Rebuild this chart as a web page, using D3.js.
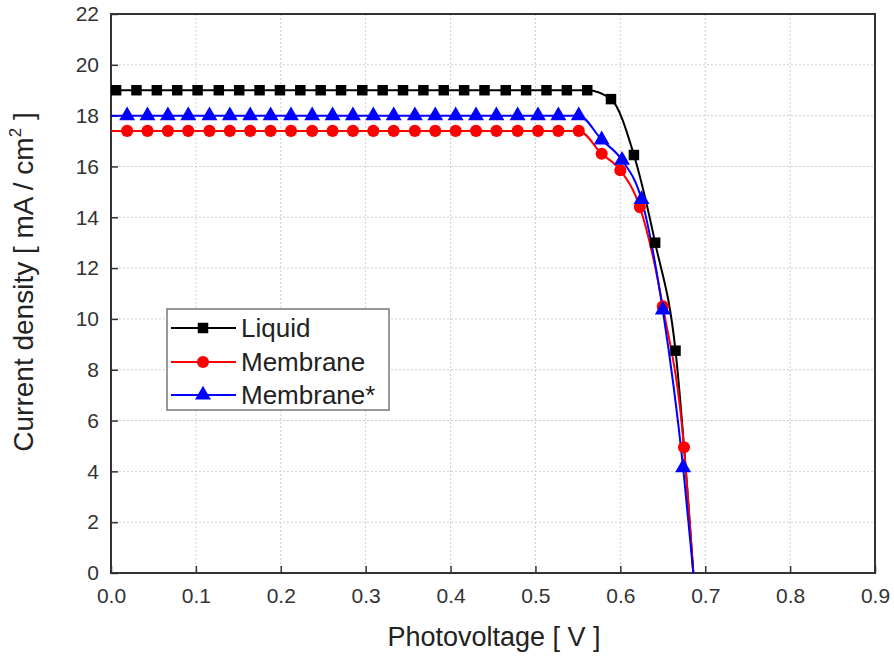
<!DOCTYPE html>
<html>
<head>
<meta charset="utf-8">
<script src="https://cdn.jsdelivr.net/npm/d3@7"></script>
<style>
  html, body { margin: 0; padding: 0; background: #fff; }
  svg { display: block; }
  text { font-family: "Liberation Sans", Arial, sans-serif; }
</style>
</head>
<body>
<svg id="chart" width="894" height="658"></svg>
<script>
// ---------------- data ----------------
const seriesNames = ["Liquid", "Membrane", "Membrane*"];

const liquidV = [0.006, 0.030, 0.054, 0.078, 0.102, 0.127, 0.151, 0.175, 0.199, 0.223,
                 0.247, 0.271, 0.296, 0.320, 0.344, 0.368, 0.392, 0.416, 0.440, 0.465,
                 0.489, 0.513, 0.537, 0.561, 0.589, 0.616, 0.641, 0.665];
const liquidJ = [19.0, 19.0, 19.0, 19.0, 19.0, 19.0, 19.0, 19.0, 19.0, 19.0,
                 19.0, 19.0, 19.0, 19.0, 19.0, 19.0, 19.0, 19.0, 19.0, 19.0,
                 19.0, 19.0, 19.0, 19.0, 18.65, 16.45, 13.0, 8.75];

const membraneV = [0.019, 0.043, 0.067, 0.091, 0.116, 0.140, 0.164, 0.188, 0.212, 0.237,
                   0.261, 0.285, 0.309, 0.333, 0.358, 0.382, 0.406, 0.430, 0.454, 0.479,
                   0.503, 0.527, 0.551, 0.578, 0.600, 0.623, 0.650, 0.675];
const membraneJ = [17.4, 17.4, 17.4, 17.4, 17.4, 17.4, 17.4, 17.4, 17.4, 17.4,
                   17.4, 17.4, 17.4, 17.4, 17.4, 17.4, 17.4, 17.4, 17.4, 17.4,
                   17.4, 17.4, 17.4, 16.5, 15.85, 14.4, 10.5, 4.95];

const membraneStarV = [0.019, 0.043, 0.067, 0.091, 0.116, 0.140, 0.164, 0.188, 0.212, 0.237,
                       0.261, 0.285, 0.309, 0.333, 0.358, 0.382, 0.406, 0.430, 0.454, 0.479,
                       0.503, 0.527, 0.551, 0.578, 0.602, 0.625, 0.650, 0.674];
const membraneStarJ = [18.0, 18.0, 18.0, 18.0, 18.0, 18.0, 18.0, 18.0, 18.0, 18.0,
                       18.0, 18.0, 18.0, 18.0, 18.0, 18.0, 18.0, 18.0, 18.0, 18.0,
                       18.0, 18.0, 18.0, 17.05, 16.25, 14.7, 10.35, 4.15];

// open-circuit voltage where each fitted curve reaches zero current
const vocV = [0.686, 0.686, 0.686];

const xTicks = [0.0, 0.1, 0.2, 0.3, 0.4, 0.5, 0.6, 0.7, 0.8, 0.9];
const yTicks = [0, 2, 4, 6, 8, 10, 12, 14, 16, 18, 20, 22];

// ---------------- styles ----------------
const colors = ["#000000", "#ff0000", "#0000ff"];
const symbols = [d3.symbolSquare, d3.symbolCircle, d3.symbolTriangle];
const symbolSizes = [110, 115, 110];

// ---------------- layout ----------------
const svg = d3.select("#chart");
const L = 111, R = 875, T = 14, B = 573;

const x = d3.scaleLinear().domain([0, 0.9]).range([L, R]);
const y = d3.scaleLinear().domain([0, 22]).range([B, T]);

svg.append("rect").attr("width", 894).attr("height", 658).attr("fill", "#fff");

// grid
const grid = svg.append("g");
grid.selectAll(".gx").data(xTicks.slice(1, -1)).enter().append("line")
  .attr("x1", d => x(d)).attr("x2", d => x(d)).attr("y1", T).attr("y2", B)
  .attr("stroke", "#cfcfcf").attr("stroke-width", 1).attr("stroke-dasharray", "2,2");
grid.selectAll(".gy").data(yTicks.slice(1, -1)).enter().append("line")
  .attr("y1", d => y(d)).attr("y2", d => y(d)).attr("x1", L).attr("x2", R)
  .attr("stroke", "#cfcfcf").attr("stroke-width", 1).attr("stroke-dasharray", "2,2");

// axes
const xAxis = d3.axisBottom(x).tickValues(xTicks).tickFormat(d3.format(".1f"))
  .tickSizeInner(-7).tickSizeOuter(0).tickPadding(14);
const yAxis = d3.axisLeft(y).tickValues(yTicks).tickFormat(d3.format("d"))
  .tickSizeInner(-7).tickSizeOuter(0).tickPadding(12);

const gx = svg.append("g").attr("transform", `translate(0,${B})`).call(xAxis);
const gy = svg.append("g").attr("transform", `translate(${L},0)`).call(yAxis);
[gx, gy].forEach(g => {
  g.select(".domain").remove();
  g.selectAll(".tick line").attr("stroke", "#333").attr("stroke-width", 1.5);
  g.selectAll(".tick text").attr("fill", "#333").attr("font-size", 21)
    .attr("font-family", "'Liberation Sans', Arial, sans-serif");
});
gx.selectAll(".tick text").attr("dy", "0.71em").attr("y", 15);

// frame
svg.append("rect").attr("x", L).attr("y", T).attr("width", R - L).attr("height", B - T)
  .attr("fill", "none").attr("stroke", "#333").attr("stroke-width", 2);

// series
const seriesV = [liquidV, membraneV, membraneStarV];
const seriesJ = [liquidJ, membraneJ, membraneStarJ];

svg.append("clipPath").attr("id", "clip").append("rect")
  .attr("x", L).attr("y", T).attr("width", R - L).attr("height", B - T);

const line = d3.line().x(d => x(d[0])).y(d => y(d[1])).curve(d3.curveMonotoneX);
const plot = svg.append("g").attr("clip-path", "url(#clip)");

seriesNames.forEach((name, i) => {
  const pts = seriesV[i].map((v, k) => [v, seriesJ[i][k]]);
  const curvePts = [[0, seriesJ[i][0]], ...pts, [vocV[i], 0]];
  plot.append("path").datum(curvePts).attr("d", line)
    .attr("fill", "none").attr("stroke", colors[i]).attr("stroke-width", 2);
});
seriesNames.forEach((name, i) => {
  const pts = seriesV[i].map((v, k) => [v, seriesJ[i][k]]);
  plot.selectAll(".m" + i).data(pts).enter().append("path")
    .attr("d", d3.symbol().type(symbols[i]).size(symbolSizes[i]))
    .attr("transform", d => `translate(${x(d[0])},${y(d[1])})`)
    .attr("fill", colors[i]);
});

// legend
const lg = svg.append("g");
lg.append("rect").attr("x", 167).attr("y", 309).attr("width", 222).attr("height", 101)
  .attr("fill", "#fff").attr("stroke", "#777").attr("stroke-width", 1.5);
const rowY = [328, 362, 395];
seriesNames.forEach((name, i) => {
  lg.append("line").attr("x1", 171).attr("x2", 236).attr("y1", rowY[i]).attr("y2", rowY[i])
    .attr("stroke", colors[i]).attr("stroke-width", 2);
  lg.append("path").attr("d", d3.symbol().type(symbols[i]).size(symbolSizes[i]))
    .attr("transform", `translate(203,${rowY[i]})`).attr("fill", colors[i]);
  lg.append("text").attr("x", 241).attr("y", rowY[i]).attr("dy", "0.36em")
    .attr("font-size", 26).attr("fill", "#222").text(name);
});

// axis titles
svg.append("text").attr("x", 494).attr("y", 646).attr("text-anchor", "middle")
  .attr("font-size", 27).attr("fill", "#222").text("Photovoltage [ V ]");

const yt = svg.append("text").attr("transform", "translate(33,282) rotate(-90)")
  .attr("text-anchor", "middle").attr("font-size", 28).attr("fill", "#222");
yt.append("tspan").text("Current density [ mA / cm");
yt.append("tspan").attr("font-size", 17).attr("dy", -12).text("2");
yt.append("tspan").attr("dy", 12).text(" ]");
</script>
</body>
</html>
